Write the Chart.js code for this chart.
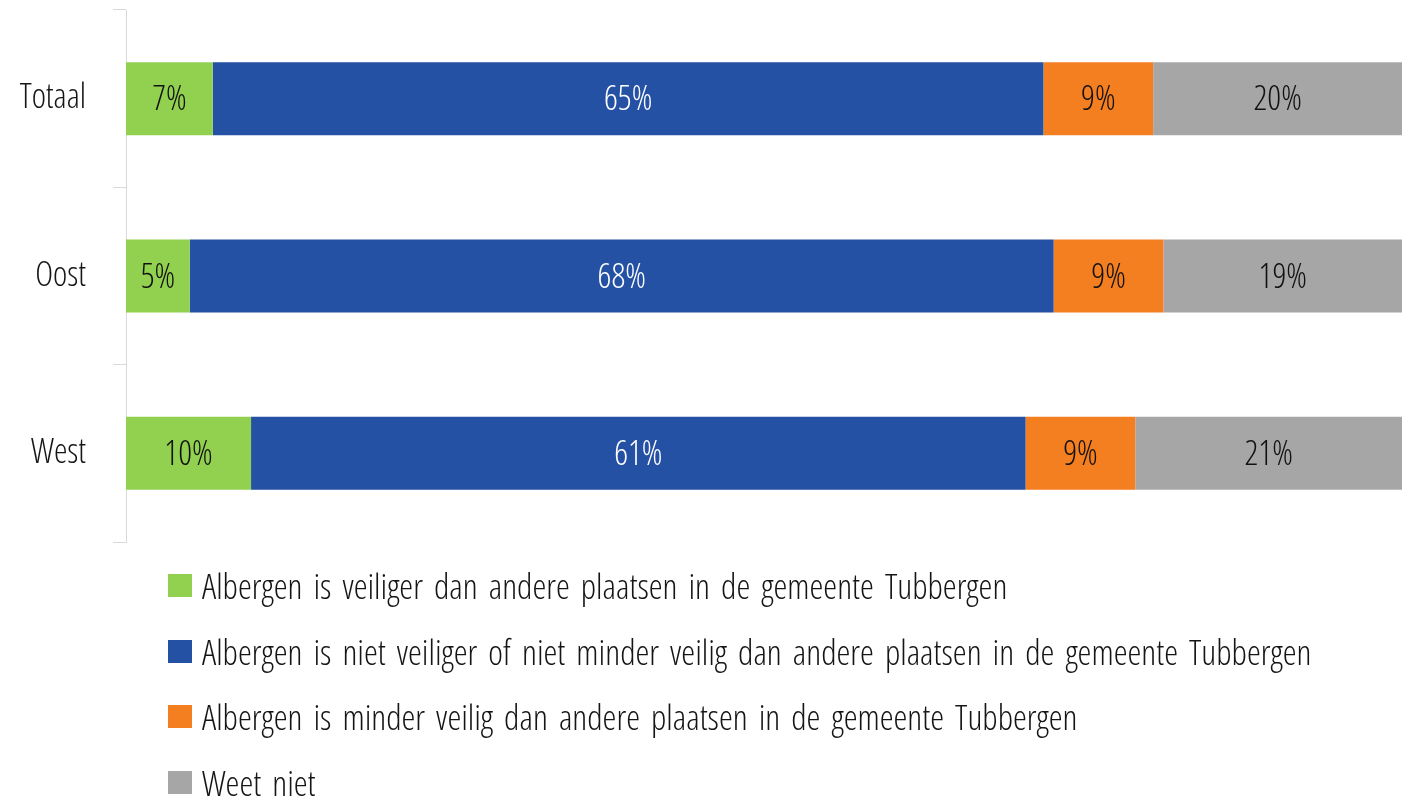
<!DOCTYPE html>
<html><head><meta charset="utf-8">
<script src="https://cdn.jsdelivr.net/npm/chart.js@4.4.1/dist/chart.umd.min.js"></script>
<style>
html,body{margin:0;padding:0;background:#fff;}
#wrap{position:relative;width:1406px;height:797px;overflow:hidden;}
canvas{position:absolute;left:0;top:0;}
#legend{position:absolute;left:168px;top:553px;margin:0;padding:0;list-style:none;color:#151515;}
#legend li{display:flex;align-items:center;height:65.5px;white-space:nowrap;font-size:35px;line-height:35px;word-spacing:4.5px;}
#legend .box{width:24px;height:23px;margin-right:10px;flex:none;}
</style></head><body>
<div id="wrap"><canvas id="c" width="1406" height="797"></canvas><ul id="legend"></ul></div>
<script>
const categories = ['Totaal', 'Oost', 'West'];
const seriesNames = [
  'Albergen is veiliger dan andere plaatsen in de gemeente Tubbergen',
  'Albergen is niet veiliger of niet minder veilig dan andere plaatsen in de gemeente Tubbergen',
  'Albergen is minder veilig dan andere plaatsen in de gemeente Tubbergen',
  'Weet niet'
];
// shares in % per category (labels show them rounded)
const veiliger = [6.8, 5.0, 9.8];
const nietVeiliger = [65.1, 67.7, 60.7];
const minderVeilig = [8.6, 8.6, 8.6];
const weetNiet = [19.5, 18.7, 20.9];
const seriesColors = ['#92D050', '#2451A4', '#F47F20', '#A6A6A6'];
const labelColors = ['#111111', '#FFFFFF', '#111111', '#111111'];
const axisMax = 100;

function pickFont() {
  const c = document.createElement('canvas').getContext('2d');
  c.font = '300 34px "Open Sans"';
  const w1 = c.measureText('Albergen is veiliger').width;
  c.font = '300 condensed 34px "Open Sans"';
  const w2 = c.measureText('Albergen is veiliger').width;
  if (w2 < w1 * 0.9) return {family: '"Open Sans", sans-serif', weight: '300 condensed', css: {family: '"Open Sans", sans-serif', weight: '300', stretch: '75%'}};
  return {family: '"Liberation Sans Narrow", "DejaVu Sans Condensed", sans-serif', weight: 'normal', css: {family: '"Liberation Sans Narrow", "DejaVu Sans Condensed", sans-serif', weight: 'normal', stretch: 'normal'}};
}
const F = pickFont();
const fontSize = 34;

const seriesData = [veiliger, nietVeiliger, minderVeilig, weetNiet];
const datasets = seriesData.map((d, i) => ({
  label: seriesNames[i],
  data: d,
  backgroundColor: seriesColors[i],
  borderWidth: 0,
  categoryPercentage: 1,
  barPercentage: 0.412,
  labelColor: labelColors[i]
}));

const segmentLabels = {
  id: 'segmentLabels',
  afterDatasetsDraw(chart) {
    const ctx = chart.ctx;
    chart.data.datasets.forEach((ds, di) => {
      const meta = chart.getDatasetMeta(di);
      meta.data.forEach((bar, i) => {
        const p = bar.getProps(['x', 'y', 'base'], true);
        ctx.save();
        ctx.font = F.weight + ' ' + fontSize + 'px ' + F.family;
        ctx.fillStyle = ds.labelColor;
        ctx.textAlign = 'center';
        ctx.textBaseline = 'middle';
        ctx.fillText(Math.round(ds.data[i]) + '%', (p.x + p.base) / 2, p.y + 2);
        ctx.restore();
      });
    });
  }
};

const chart = new Chart(document.getElementById('c'), {
  type: 'bar',
  data: {labels: categories, datasets},
  options: {
    indexAxis: 'y',
    responsive: false,
    animation: false,
    devicePixelRatio: 1,
    layout: {padding: {top: 10, bottom: 255, left: 0, right: 4}},
    plugins: {legend: {display: false}, tooltip: {enabled: false}, title: {display: false}},
    scales: {
      x: {stacked: true, min: 0, max: axisMax, display: false},
      y: {
        stacked: true,
        border: {display: true, color: '#D9D9D9', width: 1},
        grid: {display: true, drawOnChartArea: false, drawTicks: true, tickLength: 13, color: '#D9D9D9', offset: true},
        ticks: {padding: 27, color: '#151515', font: {family: F.family, weight: F.weight, size: fontSize}},
        afterFit: s => { s.width = 126; s.paddingTop = 0; s.paddingBottom = 0; }
      }
    }
  },
  plugins: [segmentLabels]
});

const ul = document.getElementById('legend');
chart.options.plugins.legend.labels.generateLabels(chart).forEach(item => {
  const li = document.createElement('li');
  li.style.fontFamily = F.css.family;
  li.style.fontWeight = F.css.weight;
  li.style.fontStretch = F.css.stretch;
  const box = document.createElement('span');
  box.className = 'box';
  box.style.background = item.fillStyle;
  const t = document.createElement('span');
  t.textContent = item.text;
  li.appendChild(box); li.appendChild(t);
  ul.appendChild(li);
});
</script>
</body></html>
